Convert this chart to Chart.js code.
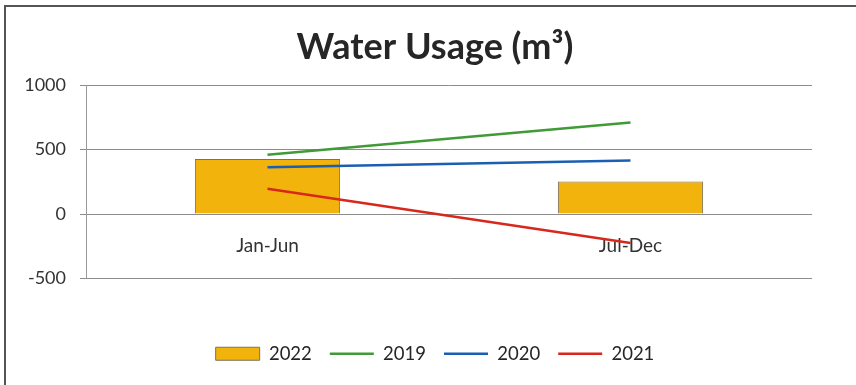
<!DOCTYPE html>
<html>
<head>
<meta charset="utf-8">
<script src="https://cdn.jsdelivr.net/npm/chart.js@4/dist/chart.umd.min.js"></script>
<style>
  html, body { margin: 0; padding: 0; background: #fff; }
  #wrap { position: relative; width: 856px; height: 385px; overflow: hidden; }
  #frame { position: absolute; left: 4px; top: 5px; width: 870px; height: 400px; border: 2px solid #555; box-sizing: border-box; pointer-events: none; }
  canvas { position: absolute; left: 0; top: 0; }
</style>
</head>
<body>
<div id="wrap">
  <canvas id="c" width="856" height="385"></canvas>
  <div id="frame"></div>
</div>
<script>
const categories = ['Jan-Jun', 'Jul-Dec'];
const values2022 = [428, 252];
const values2019 = [460, 710];
const values2020 = [363, 416];
const values2021 = [197, -225];
const yTicks = [-500, 0, 500, 1000];

const FONT = 'Lato, "Open Sans", sans-serif';

new Chart(document.getElementById('c'), {
  data: {
    labels: categories,
    datasets: [
      { type: 'bar', label: '2022', data: values2022, backgroundColor: '#f1b30c', borderColor: '#7d7158', borderWidth: 1, barPercentage: 0.4, categoryPercentage: 1, order: 1, pointStyle: 'rect' },
      { type: 'line', label: '2019', data: values2019, borderColor: '#3f9a37', backgroundColor: '#3f9a37', borderWidth: 2.5, pointRadius: 0, pointStyle: 'line', order: 0 },
      { type: 'line', label: '2020', data: values2020, borderColor: '#1b5fb2', backgroundColor: '#1b5fb2', borderWidth: 2.5, pointRadius: 0, pointStyle: 'line', order: 0 },
      { type: 'line', label: '2021', data: values2021, borderColor: '#d8271c', backgroundColor: '#d8271c', borderWidth: 2.5, pointRadius: 0, pointStyle: 'line', order: 0 }
    ]
  },
  options: {
    responsive: false,
    animation: false,
    layout: { padding: { top: 20, right: 0, bottom: 12, left: 14 } },
    plugins: {
      tooltip: { enabled: false },
      title: {
        display: true,
        text: 'Water Usage (m³)',
        color: '#262626',
        font: { family: FONT, size: 36, weight: 'bold', lineHeight: 1.2 },
        padding: { top: 6, bottom: 16 }
      },
      legend: {
        position: 'bottom',
        labels: {
          usePointStyle: true,
          pointStyleWidth: 44,
          boxHeight: 13,
          padding: 18,
          color: '#262626',
          font: { family: FONT, size: 18.5 },
          sort: (a, b) => a.datasetIndex - b.datasetIndex
        }
      }
    },
    scales: {
      x: {
        type: 'category',
        position: { y: 0 },
        grid: { display: false },
        border: { display: false },
        ticks: { color: '#333', font: { family: FONT, size: 19 }, padding: 12, maxRotation: 0 }
      },
      spacer: {
        type: 'category',
        axis: 'x',
        position: 'bottom',
        labels: categories,
        grid: { display: false, drawTicks: false },
        border: { display: false },
        ticks: { display: false },
        afterFit: (s) => { s.height = 48; }
      },
      y: {
        min: -500,
        max: 1000,
        afterBuildTicks: (s) => { s.ticks = yTicks.map(v => ({ value: v })); },
        grid: { color: '#8c8c8c', lineWidth: 1, tickLength: 6, drawTicks: true },
        border: { display: true, color: '#9a9a9a', width: 1 },
        ticks: { color: '#333', font: { family: FONT, size: 18 }, padding: 14, callback: (v) => String(v) },
        afterFit: (s) => { s.width = 72; }
      },
      rightSpacer: {
        type: 'linear',
        axis: 'y',
        position: 'right',
        min: -500,
        max: 1000,
        grid: { display: false, drawTicks: false },
        border: { display: false },
        ticks: { display: false },
        afterFit: (s) => { s.width = 44; }
      }
    }
  }
});
</script>
</body>
</html>
